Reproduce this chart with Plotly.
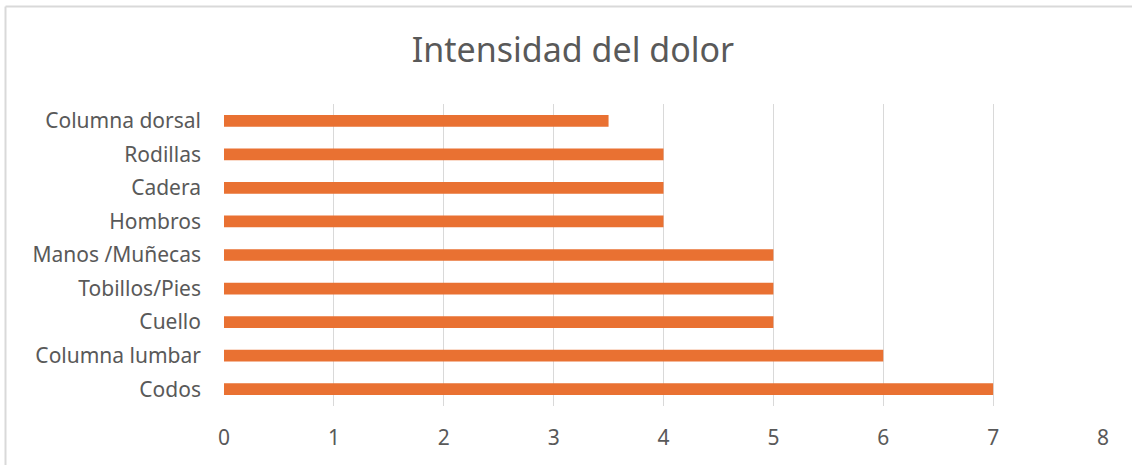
import plotly.graph_objects as go

categories = ["Codos", "Columna lumbar", "Cuello", "Tobillos/Pies", "Manos /Muñecas",
              "Hombros", "Cadera", "Rodillas", "Columna dorsal"]
values = [7, 6, 5, 5, 5, 4, 4, 4, 3.5]
x_ticks = [0, 1, 2, 3, 4, 5, 6, 7, 8]

W, H = 1132, 465
L, R, T, B = 224, 29, 104, 59
pw, ph = W - L - R, H - T - B

fig = go.Figure(go.Bar(
    x=values, y=categories, orientation="h",
    marker=dict(color="#E97132", line=dict(width=0)),
))

gray = "#595959"
font = "Noto Sans"

def px_to_paper_x(px):
    return (px - L) / pw

def px_to_paper_y(py):
    return 1 - (py - T) / ph

fig.update_layout(
    width=W, height=H,
    margin=dict(l=L, r=R, t=T, b=B),
    paper_bgcolor="white", plot_bgcolor="white",
    bargap=0.65,
    showlegend=False,
    font=dict(family=font, color=gray),
    title=dict(text="Intensidad del dolor", x=573 / W, xanchor="center",
               y=1 - 50 / H, yanchor="middle", xref="container", yref="container",
               font=dict(size=34, color=gray, family=font)),
    xaxis=dict(range=[0, 8], tickvals=x_ticks, showgrid=True, gridcolor="#D9D9D9",
               gridwidth=1, zeroline=False, showline=False, ticks="",
               tickfont=dict(size=21, color=gray), ticklabelstandoff=17),
    yaxis=dict(categoryorder="array", categoryarray=categories, showgrid=False,
               zeroline=False, showline=False, ticks="",
               tickfont=dict(size=21, color=gray), ticklabelstandoff=22),
    shapes=[
        dict(type="line", xref="paper", yref="paper",
             x0=px_to_paper_x(5.5), x1=px_to_paper_x(5.5),
             y0=px_to_paper_y(6.5), y1=px_to_paper_y(480),
             line=dict(color="#D9D9D9", width=2)),
        dict(type="line", xref="paper", yref="paper",
             x0=px_to_paper_x(5.5), x1=px_to_paper_x(1150),
             y0=px_to_paper_y(6.5), y1=px_to_paper_y(6.5),
             line=dict(color="#D9D9D9", width=2)),
    ],
)

fig.write_html("out.html", config={"displayModeBar": False},
               post_script="document.body.style.margin='0';")
